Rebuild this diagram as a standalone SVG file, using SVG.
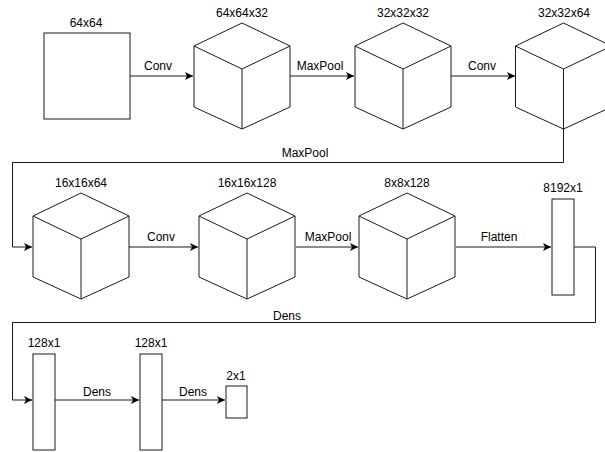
<svg xmlns="http://www.w3.org/2000/svg" width="605" height="452" viewBox="0 0 605 452">
<defs>
<style>
.n{fill:#fff;stroke:#1a1a1a;stroke-width:1}
.e{fill:none;stroke:#1a1a1a;stroke-width:1}
text{font-family:"Liberation Sans",Arial,sans-serif;font-size:12px;fill:#000;text-anchor:middle}
</style>
<marker id="a" viewBox="0 0 10 10" refX="10" refY="5" markerWidth="8" markerHeight="8" markerUnits="userSpaceOnUse" orient="auto">
<path d="M0,0 L10,5 L0,10 L2.5,5 Z" fill="#000"/>
</marker>
<g id="cube">
<path class="n" d="M0,0 L48,23 L48,84 L0,106 L-48,84 L-48,23 Z"/>
<path class="e" d="M-48,23 L0,46 L48,23 M0,46 L0,106"/>
</g>
</defs>
<rect width="605" height="452" fill="#fff"/>
<g id="connectors">
<path class="e" d="M130,76 L193,76" marker-end="url(#a)"/>
<text x="158" y="70">Conv</text>
<path class="e" d="M290,76 L354,76" marker-end="url(#a)"/>
<text x="320" y="70">MaxPool</text>
<path class="e" d="M451,76 L515,76" marker-end="url(#a)"/>
<text x="482" y="70">Conv</text>
<path class="e" d="M563.5,129 L563.5,162.5 L12.5,162.5 L12.5,247 L32,247" marker-end="url(#a)"/>
<text x="305" y="157">MaxPool</text>
<path class="e" d="M129,247 L198,247" marker-end="url(#a)"/>
<text x="161" y="241">Conv</text>
<path class="e" d="M296,247 L358,247" marker-end="url(#a)"/>
<text x="328" y="241">MaxPool</text>
<path class="e" d="M456,247 L551,247" marker-end="url(#a)"/>
<text x="499" y="241">Flatten</text>
<path class="e" d="M574,247 L595.5,247 L595.5,322.5 L12.5,322.5 L12.5,400 L32,400" marker-end="url(#a)"/>
<text x="287" y="320">Dens</text>
<path class="e" d="M55,400 L139,400" marker-end="url(#a)"/>
<text x="97" y="396">Dens</text>
<path class="e" d="M162,400 L225,400" marker-end="url(#a)"/>
<text x="193" y="396">Dens</text>
</g>
<g id="n1"><rect class="n" x="44" y="33" width="86" height="86"/><text x="86" y="27">64x64</text></g>
<g id="n2"><use href="#cube" x="242" y="23"/><text x="242" y="17">64x64x32</text></g>
<g id="n3"><use href="#cube" x="403" y="23"/><text x="403" y="17">32x32x32</text></g>
<g id="n4"><use href="#cube" x="563.5" y="23"/><text x="564" y="17">32x32x64</text></g>
<g id="n5"><use href="#cube" x="81" y="193"/><text x="81" y="187">16x16x64</text></g>
<g id="n6"><use href="#cube" x="247" y="193"/><text x="247" y="187">16x16x128</text></g>
<g id="n7"><use href="#cube" x="407" y="193"/><text x="407" y="187">8x8x128</text></g>
<g id="n8"><rect class="n" x="552" y="199" width="22" height="96"/><text x="563" y="192">8192x1</text></g>
<g id="n9"><rect class="n" x="33" y="354" width="22" height="96"/><text x="44" y="347">128x1</text></g>
<g id="n10"><rect class="n" x="140" y="354" width="22" height="96"/><text x="151" y="347">128x1</text></g>
<g id="n11"><rect class="n" x="226" y="386" width="21" height="32"/><text x="236" y="380">2x1</text></g>
</svg>
